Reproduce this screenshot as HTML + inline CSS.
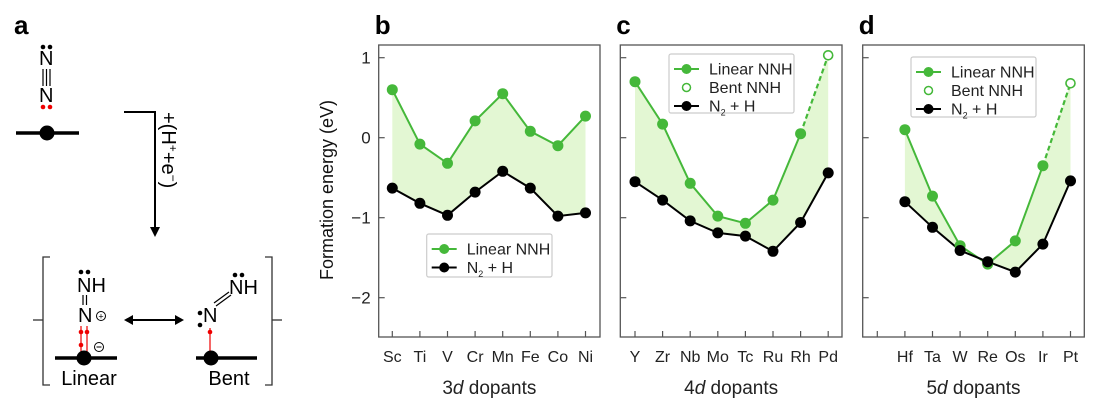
<!DOCTYPE html>
<html><head><meta charset="utf-8"><style>
body{margin:0;background:#fff;width:1107px;height:403px;overflow:hidden}
svg{font-family:"Liberation Sans",sans-serif}
</style></head><body>
<svg id="fig" width="1107" height="403" viewBox="0 0 1107 403">
<g fill="#000" font-size="20">
<text x="14" y="34" font-size="26" font-weight="bold">a</text>
<text x="39" y="65">N</text>
<text x="39" y="102">N</text>
<circle cx="43" cy="47" r="2.3"/><circle cx="50" cy="47" r="2.3"/>
<g stroke="#000" stroke-width="1.2"><line x1="43" y1="69" x2="43" y2="86"/><line x1="46.5" y1="69" x2="46.5" y2="86"/><line x1="50" y1="69" x2="50" y2="86"/></g>
<circle cx="43" cy="107" r="2.3" fill="#e00"/><circle cx="50" cy="107" r="2.3" fill="#e00"/>
<line x1="16" y1="133" x2="79" y2="133" stroke="#000" stroke-width="3.5"/><circle cx="47" cy="133" r="7.5"/>
<polyline points="124,112 155,112 155,228" fill="none" stroke="#000" stroke-width="2"/>
<polygon points="150,227 160,227 155,237"/>
<text transform="translate(162,112) rotate(90)" font-size="20">+(H<tspan dy="-7" font-size="12">+</tspan><tspan dy="7">+e</tspan><tspan dy="-7" font-size="12">−</tspan><tspan dy="7">)</tspan></text>
<g fill="none" stroke="#333" stroke-width="1.3"><polyline points="50,257 43,257 43,385 50,385"/><line x1="33" y1="320" x2="43" y2="320"/><polyline points="265,257 272,257 272,385 265,385"/><line x1="272" y1="320" x2="282" y2="320"/></g>
<text x="77" y="292">NH</text>
<circle cx="81" cy="272" r="2.3"/><circle cx="88" cy="272" r="2.3"/>
<g stroke="#000" stroke-width="1.2"><line x1="83" y1="295" x2="83" y2="305"/><line x1="86.5" y1="295" x2="86.5" y2="305"/></g>
<text x="78" y="322">N</text>
<circle cx="101" cy="316" r="4.5" fill="none" stroke="#000"/><text x="101" y="319.5" font-size="9" text-anchor="middle">+</text>
<circle cx="99" cy="347" r="4.5" fill="none" stroke="#000"/><line x1="96.5" y1="347" x2="101.5" y2="347" stroke="#000"/>
<g stroke="#e00" stroke-width="1.2"><line x1="81" y1="326" x2="81" y2="356"/><line x1="87" y1="326" x2="87" y2="356"/></g>
<g fill="#e00"><circle cx="81" cy="332" r="2.3"/><circle cx="87" cy="332" r="2.3"/><circle cx="81" cy="345" r="2.3"/></g>
<line x1="55" y1="358" x2="117" y2="358" stroke="#000" stroke-width="3.5"/><circle cx="84" cy="358" r="7.5"/>
<text x="89" y="385" text-anchor="middle">Linear</text>
<line x1="130" y1="320" x2="178" y2="320" stroke="#000" stroke-width="2"/>
<polygon points="124,320 133,315 133,325"/><polygon points="184,320 175,315 175,325"/>
<circle cx="200" cy="313" r="2.3"/><circle cx="200" cy="325" r="2.3"/>
<text x="203" y="322">N</text>
<g stroke="#000" stroke-width="1.2"><line x1="214" y1="303" x2="229" y2="292"/><line x1="216" y1="306" x2="231" y2="295"/></g>
<text x="229" y="294">NH</text>
<circle cx="235" cy="275" r="2.3"/><circle cx="242" cy="275" r="2.3"/>
<line x1="210" y1="328" x2="210" y2="356" stroke="#e00" stroke-width="1.2"/><circle cx="210" cy="332" r="2.3" fill="#e00"/>
<line x1="196" y1="358" x2="257" y2="358" stroke="#000" stroke-width="3.5"/><circle cx="211" cy="358" r="7.5"/>
<text x="229" y="385" text-anchor="middle">Bent</text>
</g>
<text transform="translate(333,190) rotate(-90)" font-size="18" text-anchor="middle" fill="#111">Formation energy (eV)</text>
<g id="charts"></g>
</svg>
<script>
const catsB=["Sc","Ti","V","Cr","Mn","Fe","Co","Ni"];
const linB=[0.6,-0.08,-0.32,0.21,0.55,0.08,-0.1,0.27];
const n2hB=[-0.63,-0.82,-0.97,-0.68,-0.42,-0.63,-0.98,-0.94];
const catsC=["Y","Zr","Nb","Mo","Tc","Ru","Rh","Pd"];
const linC=[0.7,0.17,-0.57,-0.98,-1.07,-0.78,0.05,null];
const bentC=[null,null,null,null,null,null,null,1.03];
const n2hC=[-0.55,-0.78,-1.04,-1.19,-1.23,-1.42,-1.06,-0.44];
const catsD=["","Hf","Ta","W","Re","Os","Ir","Pt"];
const linD=[null,0.1,-0.73,-1.35,-1.58,-1.29,-0.35,null];
const bentD=[null,null,null,null,null,null,null,0.68];
const n2hD=[null,-0.8,-1.12,-1.41,-1.55,-1.68,-1.33,-0.54];
const yTicks=[1,0,-1,-2];
const NS="http://www.w3.org/2000/svg";
const root=document.getElementById('charts');
const G="#45b83a";
function mk(tag,attrs,parent){const e=document.createElementNS(NS,tag);for(const k in attrs)e.setAttribute(k,attrs[k]);(parent||root).appendChild(e);return e;}
function panel(p){
  const g=mk('g',{});
  
  
  const x=i=>p.x0+i*27.6;
  const y=v=>137.7-v*80;
  const top=p.cats.map((c,i)=>p.lin[i]!=null?p.lin[i]:p.bent[i]);
  const idx=p.cats.map((c,i)=>i).filter(i=>top[i]!=null&&p.n2h[i]!=null);
  let pts=idx.map(i=>x(i)+','+y(top[i])).concat(idx.slice().reverse().map(i=>x(i)+','+y(p.n2h[i])));
  const f=mk('polygon',{points:pts.join(' '),fill:'#e3f7d3'},g);
  
  
  const fr=mk('rect',{x:p.fx,y:45,width:p.fw,height:292,fill:'none',stroke:'#555','stroke-width':1.3},g);
  
  
  yTicks.forEach(v=>{mk('line',{x1:p.fx,x2:p.fx+6,y1:y(v),y2:y(v),stroke:'#555','stroke-width':1.2},g);
    if(p.labels){const t=mk('text',{x:p.fx-8,y:y(v)+6,'text-anchor':'end','font-size':17,fill:'#222'},g);t.textContent=v<0?'−'+(-v):v;
    
    }});
  p.cats.forEach((c,i)=>{mk('line',{x1:x(i),x2:x(i),y1:337,y2:331,stroke:'#555','stroke-width':1.2},g);
    const t=mk('text',{x:x(i),y:362,'text-anchor':'middle','font-size':16,fill:'#222'},g);t.textContent=c;
    
    });
  const xt=mk('text',{x:p.fx+p.fw/2,y:394,'text-anchor':'middle','font-size':19,fill:'#222'},g);
  xt.innerHTML=p.dn+'<tspan font-style="italic">d</tspan> dopants';
  
  
  const pl=mk('text',{x:p.fx-4,y:34,'font-size':26,'font-weight':'bold'},g);pl.textContent=p.id;
  
  
  const li=p.cats.map((c,i)=>i).filter(i=>p.lin[i]!=null);
  mk('polyline',{points:li.map(i=>x(i)+','+y(p.lin[i])).join(' '),fill:'none',stroke:G,'stroke-width':2},g);
  p.bent.forEach((v,i)=>{if(v!=null){mk('line',{x1:x(i-1),y1:y(p.lin[i-1]),x2:x(i),y2:y(v),stroke:G,'stroke-width':2.2,'stroke-dasharray':'5,3'},g);
    const c=mk('circle',{cx:x(i),cy:y(v),r:4.5,fill:'#fff',stroke:G,'stroke-width':1.6},g);
    
    }});
  const ni=p.cats.map((c,i)=>i).filter(i=>p.n2h[i]!=null);
  mk('polyline',{points:ni.map(i=>x(i)+','+y(p.n2h[i])).join(' '),fill:'none',stroke:'#000','stroke-width':2},g);
  li.forEach(i=>{const c=mk('circle',{cx:x(i),cy:y(p.lin[i]),r:5.5,fill:G},g);
    
    });
  ni.forEach(i=>{const c=mk('circle',{cx:x(i),cy:y(p.n2h[i]),r:5.5,fill:'#000'},g);
    
    });
  const L=p.leg;
  const lg=mk('g',{},g);
  
  
  mk('rect',{x:L.x,y:L.y,width:L.w,height:L.h,fill:'#fff',stroke:'#ccc','stroke-width':1.2,rx:2},lg);
  let yy=L.y+15;
  const entries=[['Linear NNH','lin']].concat(p.bent.some(v=>v!=null)?[['Bent NNH','bent']]:[]).concat([['N2H','n2h']]);
  entries.forEach(e=>{
    if(e[1]=='lin'){mk('line',{x1:L.x+5,x2:L.x+30,y1:yy,y2:yy,stroke:G,'stroke-width':2},lg);mk('circle',{cx:L.x+17.5,cy:yy,r:5,fill:G},lg);}
    if(e[1]=='bent'){mk('circle',{cx:L.x+17.5,cy:yy,r:4,fill:'#fff',stroke:G,'stroke-width':1.5},lg);}
    if(e[1]=='n2h'){mk('line',{x1:L.x+5,x2:L.x+30,y1:yy,y2:yy,stroke:'#000','stroke-width':2},lg);mk('circle',{cx:L.x+17.5,cy:yy,r:5,fill:'#000'},lg);}
    const t=mk('text',{x:L.x+40,y:yy+5.5,'font-size':16,fill:'#222'},lg);
    if(e[1]=='n2h')t.innerHTML='N<tspan font-size="9" dy="4">2</tspan><tspan dy="-4"> + H</tspan>';else t.textContent=e[0];
    
    
    yy+=18.5;});
}
panel({id:'b',x0:392.3,fx:378.7,fw:221.3,cats:catsB,lin:linB,bent:catsB.map(()=>null),n2h:n2hB,labels:true,dn:'3',leg:{x:426.7,y:234,w:125.3,h:43}});
panel({id:'c',x0:635,fx:620.3,fw:221.7,cats:catsC,lin:linC,bent:bentC,n2h:n2hC,labels:false,dn:'4',leg:{x:669,y:54,w:125,h:59}});
panel({id:'d',x0:877.3,fx:862.7,fw:221.6,cats:catsD,lin:linD,bent:bentD,n2h:n2hD,labels:false,dn:'5',leg:{x:911,y:57,w:125,h:60}});
</script>
</body></html>
